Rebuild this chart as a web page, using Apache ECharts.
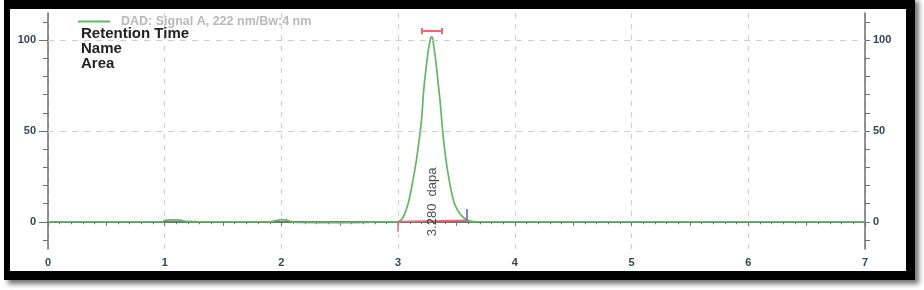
<!DOCTYPE html>
<html><head><meta charset="utf-8">
<script src="https://cdn.jsdelivr.net/npm/echarts@6/dist/echarts.min.js"></script>
<style>html,body{margin:0;padding:0;background:#fff}#c{width:924px;height:290px}</style>
</head><body><div id="c"></div>
<script>
// ---- data ----
const seriesName = 'DAD: Signal A, 222 nm/Bw:4 nm';
const infoLines = ['Retention Time', 'Name', 'Area'];
const peakLabel = '3.280  dapa';
const peakLabelPos = [3.29, 11];

const timeMin = [0, 0.98, 1.0, 1.05, 1.12, 1.15, 1.2, 1.3, 1.9, 1.95, 2.0, 2.03, 2.08, 2.13, 2.5, 2.74, 2.78, 2.98,
  3.00, 3.02, 3.04, 3.06, 3.08, 3.10, 3.12, 3.14, 3.16, 3.18, 3.20, 3.22, 3.24, 3.26, 3.28, 3.29, 3.30,
  3.32, 3.34, 3.36, 3.38, 3.40, 3.42, 3.44, 3.46, 3.48, 3.50, 3.52, 3.55, 3.58, 3.61, 3.65, 3.70, 7.0];
const signal = [0, 0, 0.8, 1.0, 1.0, 0.6, 0.2, 0, 0, 0.6, 1.2, 1.0, 0.3, -0.4, -0.5, -0.4, 0, 0,
  0.1, 0.8, 2.2, 5.0, 8.8, 13.8, 20.5, 27.5, 35.5, 45, 56, 73, 85, 95, 101.5, 101.8, 99,
  90, 78, 66, 51, 39, 29.5, 22, 15.5, 10.5, 7.5, 5.3, 3.0, 1.4, 0.5, 0.1, 0, 0];

const xTickLabels = [0, 1, 2, 3, 4, 5, 6, 7];
const yTickLabels = [0, 50, 100];
const yMinorTicks = [-10, 0, 10, 20, 30, 40, 50, 60, 70, 80, 90, 100, 110];
const yGrid = [50, 100];

// integration marks
const peakWindow = [3.20, 3.37];
const windowLevel = 105;
const baselineStart = [3.0, 0.1];
const baselineEnd = [3.59, 0.9];
const startTick = [3.0, 0, -5.5];   // x, y from, y to
const endTick = [3.59, 1, 7];

// ---- chart ----
const axisColor = '#6e6e6e';
const labelStyle = {fontFamily: 'Liberation Sans', fontSize: 11, fontWeight: 'bold', color: '#3b4452'};
const chart = echarts.init(document.getElementById('c'), null, {renderer: 'canvas'});

const red = '#ec6a70', blue = '#4a5ae8';
const seg = (a, b, color, width) => [{coord: a}, {coord: b, lineStyle: {color: color, width: width, type: 'solid'}}];
const segs = [
  seg([peakWindow[0], windowLevel], [peakWindow[1], windowLevel], red, 2),
  seg([peakWindow[0], windowLevel - 1.7], [peakWindow[0], windowLevel + 1.7], red, 2),
  seg([peakWindow[1], windowLevel - 1.7], [peakWindow[1], windowLevel + 1.7], red, 2),
  seg(baselineStart, baselineEnd, red, 1.5),
  seg([startTick[0], startTick[1]], [startTick[0], startTick[2]], red, 1.5),
  seg([endTick[0], endTick[1]], [endTick[0], endTick[2]], blue, 1.5)
];

chart.setOption({
  animation: false,
  graphic: [
    {type: 'rect', z: -100, shape: {x: 4, y: -3, width: 911, height: 283},
     style: {fill: '#000', shadowBlur: 5, shadowOffsetX: 4, shadowOffsetY: 4, shadowColor: 'rgba(0,0,0,0.55)'}},
    {type: 'rect', z: -99, shape: {x: 10, y: 9, width: 896, height: 262}, style: {fill: '#fff'}},
    {type: 'text', left: 81, top: 26, z: 10,
     style: {text: infoLines.join('\n'), fontFamily: 'Liberation Sans', fontSize: 15, fontWeight: 'bold', lineHeight: 15, fill: '#222'}}
  ],
  legend: {
    data: [seriesName], left: 78, top: 15, padding: 0, icon: 'rect', itemWidth: 32, itemHeight: 2,
    textStyle: {fontFamily: 'Liberation Sans', fontSize: 12.5, fontWeight: 'bold', color: '#b9b9b9', padding: [0, 0, 0, 6]}
  },
  grid: {left: 48, right: 59, top: 13, bottom: 41},
  xAxis: [
    {type: 'value', min: 0, max: 7, interval: 0.5, position: 'bottom',
     axisLine: {lineStyle: {color: axisColor, width: 1.5}},
     axisTick: {length: 4, lineStyle: {color: axisColor}},
     minorTick: {show: true, splitNumber: 5, length: 2.5, lineStyle: {color: axisColor}},
     axisLabel: Object.assign({customValues: xTickLabels, margin: 8}, labelStyle),
     splitLine: {show: false}},
    {type: 'value', min: 0, max: 7, interval: 1, position: 'top',
     axisLine: {show: true, lineStyle: {color: axisColor, width: 1.5}},
     axisTick: {show: false}, axisLabel: {show: false},
     splitLine: {show: true, lineStyle: {color: '#cfcfcf', type: [5, 6], width: 1.2}}}
  ],
  yAxis: [
    {type: 'value', min: -15, max: 115, position: 'left',
     axisLine: {show: true, lineStyle: {color: axisColor, width: 1.5}},
     axisTick: {show: true, customValues: yMinorTicks, length: 5, lineStyle: {color: axisColor}},
     axisLabel: {show: false}, splitLine: {show: false}},
    {type: 'value', min: -15, max: 115, position: 'left',
     axisLine: {show: false},
     axisTick: {show: true, customValues: yTickLabels, length: 9, lineStyle: {color: axisColor}},
     axisLabel: Object.assign({customValues: yTickLabels, margin: 12}, labelStyle),
     splitLine: {show: false}},
    {type: 'value', min: -15, max: 115, position: 'right',
     axisLine: {show: true, lineStyle: {color: axisColor, width: 1.5}},
     axisTick: {show: true, customValues: yMinorTicks, length: 5, lineStyle: {color: axisColor}},
     axisLabel: Object.assign({customValues: yTickLabels, margin: 8}, labelStyle),
     splitLine: {show: false}}
  ],
  series: [
    {type: 'line', name: 'grid', data: [], z: 1, silent: true,
     markLine: {silent: true, symbol: 'none', label: {show: false}, animation: false,
       lineStyle: {color: '#cfcfcf', type: [6, 6], width: 1.2},
       data: yGrid.map(v => ({yAxis: v}))}},
    {type: 'line', name: seriesName, data: timeMin.map((t, i) => [t, signal[i]]),
     showSymbol: false, smooth: 0.35, z: 3,
     lineStyle: {color: '#62b863', width: 1.7}, itemStyle: {color: '#62b863'}},
    {type: 'line', name: 'marks', data: [], z: 4,
     markLine: {silent: true, symbol: 'none', label: {show: false}, animation: false,
       lineStyle: {type: 'solid'}, data: segs}},
    {type: 'scatter', name: 'label', data: [peakLabelPos], symbolSize: 0, z: 5, silent: true,
     label: {show: true, formatter: peakLabel, rotate: 90, position: 'inside',
       fontFamily: 'Liberation Sans', fontSize: 13, color: '#222'}}
  ]
});
</script>
</body></html>
